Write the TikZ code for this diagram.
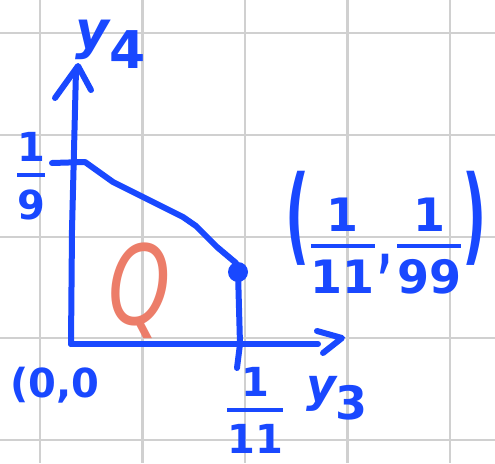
\documentclass[tikz,border=0pt]{standalone}
\usepackage{fontspec}
\usepackage{amsmath}
\usepackage{graphicx}
\setmainfont{DejaVu Sans}
\definecolor{penblue}{RGB}{25,72,255}
\definecolor{salmon}{RGB}{236,125,105}
\definecolor{gridc}{RGB}{208,208,208}
\newcommand{\hfr}[3]{\ensuremath{\genfrac{}{}{#3}{0}{\text{\bfseries #1}}{\text{\bfseries #2}}}}
\begin{document}
\begin{tikzpicture}[x=1pt,y=-1pt,
  pen/.style={draw=penblue, line width=6pt, line cap=round, line join=round},
  lab/.style={text=penblue, inner sep=0pt, outer sep=0pt},
  gridline/.style={draw=gridc, line width=2.5pt}]
\useasboundingbox (0,0) rectangle (495,463);
\fill[white] (0,0) rectangle (495,463);
% grid
\foreach \x in {40,142.5,245,347.5,450} \draw[gridline] (\x,0) -- (\x,463);
\foreach \y in {33,135,237,338,440} \draw[gridline] (0,\y) -- (495,\y);
% key points
\coordinate (O) at (71,344);
\coordinate (Ytop) at (76,70);
\coordinate (Yl) at (55,98);
\coordinate (Yr) at (91,90);
\coordinate (Yt) at (78,66);
\coordinate (Xend) at (318,344);
\coordinate (Xt) at (342,338);
\coordinate (Xu) at (317,331);
\coordinate (Xl) at (323,353);
\coordinate (T1) at (52,163);
\coordinate (T2) at (85,162);
\coordinate (P1) at (113,182);
\coordinate (P2) at (183,217);
\coordinate (P3) at (196,226);
\coordinate (P4) at (217,247);
\coordinate (P5) at (236,263);
\coordinate (D) at (238,272);
\coordinate (B) at (240,344);
\coordinate (Bt) at (237,368);
% axes
\draw[pen] (O) -- (72,230) -- (Ytop);
\draw[pen] (Yl) -- (Yt) -- (Yr);
\draw[pen] (O) -- (Xend);
\draw[pen] (Xu) -- (Xt) -- (Xl);
% tick and boundary
\draw[pen] (T1) -- (T2) -- (P1) -- (P2) -- (P3) -- (P4) -- (P5) -- (D) -- (B) -- (Bt);
\fill[penblue] (D) circle (10);
% labels
\node[lab] (ylab) at (111,44) {\fontsize{52}{60}\selectfont\bfseries\itshape y\raisebox{-20pt}{\upshape 4}};
\node[lab] (ninth) at (31,176) {\fontsize{40}{44}\selectfont\hfr{1}{9}{4pt}};
\node[lab] (pt) at (386,233) {\fontsize{46}{50}\selectfont\bfseries\scalebox{1.15}[2.3]{(}\hfr{1}{11}{4pt}\kern2pt\raisebox{-14pt}{\scalebox{0.8}[1.3]{,}}\kern4pt\hfr{1}{99}{4pt}\scalebox{1.15}[2.3]{)}};
\node[lab] (orig) at (55,385) {\fontsize{40}{44}\selectfont\bfseries (0,0};
\node[lab] (eleventh) at (255,410) {\fontsize{40}{44}\selectfont\hfr{1}{11}{4pt}};
\node[lab] (xlab) at (337,398) {\fontsize{46}{54}\selectfont\bfseries\itshape y\raisebox{-18pt}{\upshape 3}};
\node[text=salmon, inner sep=0pt] (Q) at (140,291) {\fontsize{110}{112}\selectfont\scalebox{0.72}[1]{\itshape Q}};
\end{tikzpicture}
\end{document}
